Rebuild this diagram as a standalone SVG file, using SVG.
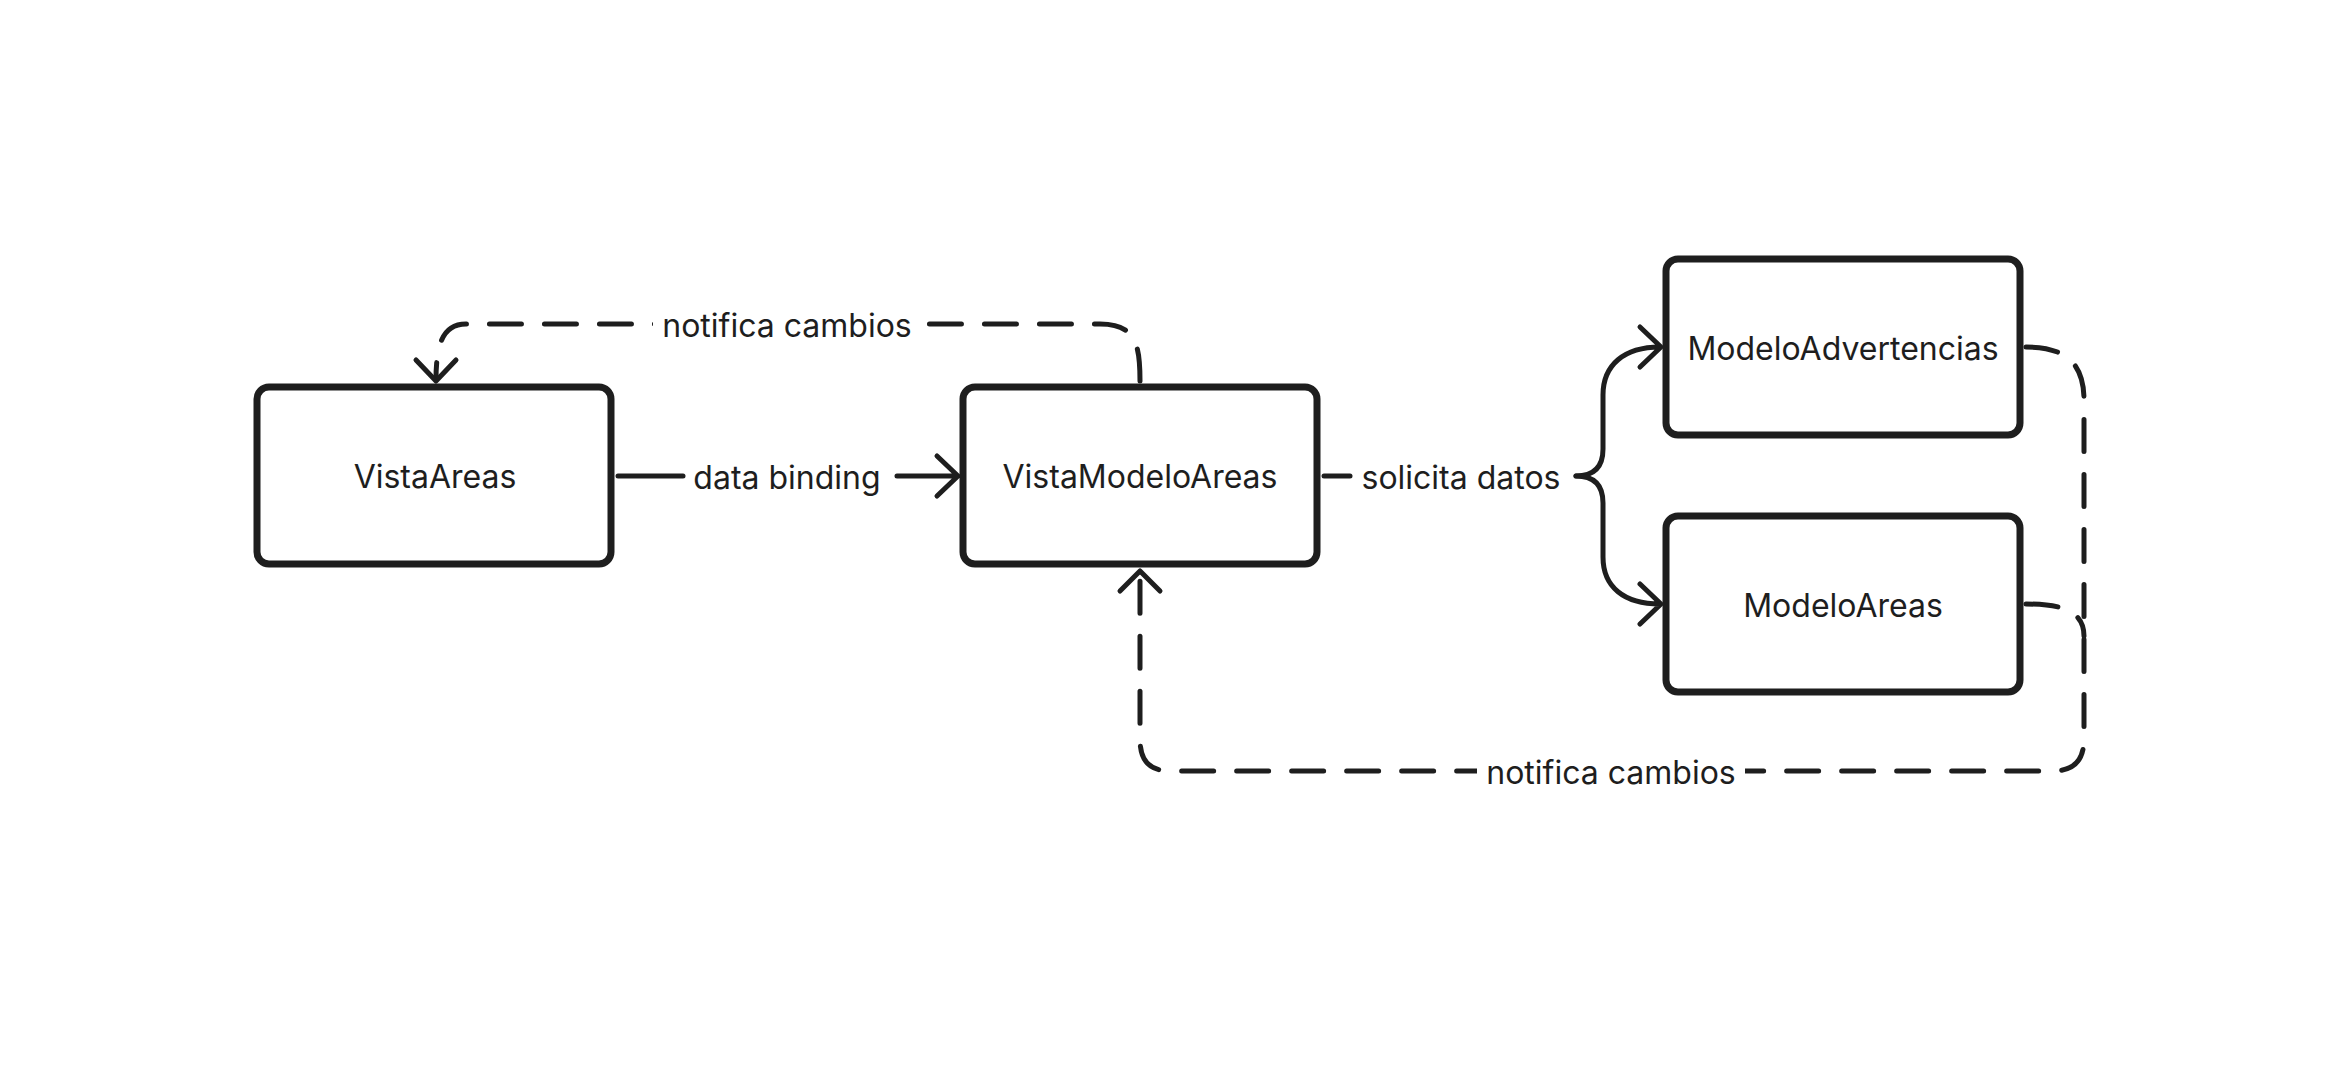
<svg xmlns="http://www.w3.org/2000/svg" width="2343" height="1068" viewBox="0 0 2343 1068">
<style>
.box{fill:#fff;stroke:#1e1e1e;stroke-width:7}
.lbl{font-family:Inter,"Liberation Sans",sans-serif;font-size:32px;fill:#1e1e1e;text-anchor:middle;dominant-baseline:central}
.ln{fill:none;stroke:#1e1e1e;stroke-width:5;stroke-linecap:round;stroke-linejoin:round}
.dash{stroke-dasharray:32 23}
.bg{fill:#fff}
</style>
<rect width="2343" height="1068" fill="#fff"/>
<g id="connectors">
<g id="e-binding">
<path class="ln" d="M618,476 L683,476"/>
<path class="ln" d="M897,476 L958,476 M937,456 L958,476 L937,496"/>
<text class="lbl" x="787" y="477">data binding</text>
</g>
<g id="e-notifica-top">
<path class="ln dash" d="M1140,381 C1140,345 1136,324 1100,324 L466,324 C446,324 436,338 436,380"/>
<path class="ln" d="M416,360 L436,381 L456,360"/>
<rect class="bg" x="653" y="304" width="268" height="42"/>
<text class="lbl" x="787" y="325">notifica cambios</text>
</g>
<g id="e-solicita">
<path class="ln" d="M1324,476 L1350,476"/>
<text class="lbl" x="1461" y="477">solicita datos</text>
<path class="ln" d="M1576,476 C1594,476 1603,467 1603,449 L1603,395 C1603,365 1624,347 1660,347 M1640,327 L1661,347 L1640,367"/>
<path class="ln" d="M1576,476 C1594,476 1603,485 1603,503 L1603,557 C1603,587 1624,604 1660,604 M1640,584 L1661,604 L1640,624"/>
</g>
<g id="e-notifica-bottom">
<path class="ln dash" d="M2026,347 C2062,347 2084,360 2084,400 L2084,738 C2084,761 2074,771 2052,771 L1172,771 C1148,771 1140,761 1140,738 L1140,575"/>
<path class="ln dash" d="M2026,604 C2060,604 2084,610 2084,636"/>
<path class="ln" d="M1120,591 L1140,571 L1160,591"/>
<rect class="bg" x="1477" y="751" width="268" height="42"/>
<text class="lbl" x="1611" y="772">notifica cambios</text>
</g>
</g>
<g id="n-vistaareas">
<rect class="box" x="257" y="387" width="354" height="177" rx="12"/>
<text class="lbl" x="435" y="476">VistaAreas</text>
</g>
<g id="n-vistamodeloareas">
<rect class="box" x="963" y="387" width="354" height="177" rx="12"/>
<text class="lbl" x="1140" y="476">VistaModeloAreas</text>
</g>
<g id="n-modeloadvertencias">
<rect class="box" x="1666" y="259" width="354" height="176" rx="12"/>
<text class="lbl" x="1843" y="348">ModeloAdvertencias</text>
</g>
<g id="n-modeloareas">
<rect class="box" x="1666" y="516" width="354" height="176" rx="12"/>
<text class="lbl" x="1843" y="605">ModeloAreas</text>
</g>
</svg>
